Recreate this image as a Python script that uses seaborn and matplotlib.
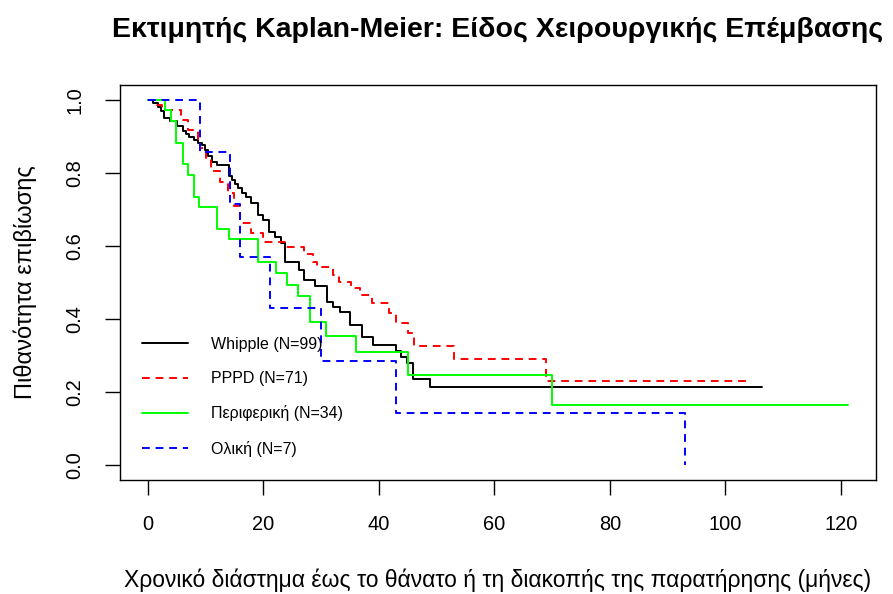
import numpy as np
import pandas as pd
import matplotlib
matplotlib.use("Agg")
import matplotlib.pyplot as plt
import seaborn as sns

# ---- data ----
groups = ["Whipple (N=99)", "PPPD (N=71)", "Περιφερική (N=34)", "Ολική (N=7)"]

whipple_t = [0, 0.9, 1.8, 2.3, 2.8, 3.8, 5.0, 6.0, 6.6, 7.1, 7.9, 8.7, 9.3, 9.8, 10.4,
             11.0, 11.9, 14.1, 14.6, 15.1, 15.6, 16.2, 17.0, 17.9, 19.0, 20.0, 21.0,
             22.0, 23.0, 23.8, 26.1, 27.0, 29.0, 31.0, 32.1, 33.2, 35.0, 37.0, 39.0,
             42.9, 43.9, 44.9, 45.9, 48.9, 106.3]
whipple_s = [1.0, 0.990, 0.980, 0.970, 0.949, 0.941, 0.929, 0.913, 0.905, 0.897, 0.889,
             0.882, 0.875, 0.862, 0.845, 0.830, 0.820, 0.792, 0.780, 0.770, 0.758, 0.745,
             0.735, 0.717, 0.685, 0.671, 0.638, 0.625, 0.607, 0.557, 0.534, 0.507, 0.490,
             0.446, 0.434, 0.418, 0.384, 0.352, 0.330, 0.313, 0.297, 0.280, 0.236, 0.215,
             0.215]

pppd_t = [0, 1.5, 2.4, 5.8, 7.0, 8.7, 9.0, 10.1, 10.9, 12.5, 13.8, 14.9, 15.9, 17.9,
          20.0, 23.8, 27.0, 28.6, 29.2, 32.1, 33.1, 35.1, 36.8, 38.8, 41.7, 42.9, 45.0,
          46.1, 53.0, 68.9, 104.2]
pppd_s = [1.0, 0.986, 0.972, 0.944, 0.918, 0.890, 0.869, 0.836, 0.804, 0.775, 0.745,
          0.710, 0.662, 0.635, 0.612, 0.598, 0.577, 0.557, 0.543, 0.521, 0.502, 0.484,
          0.466, 0.443, 0.416, 0.388, 0.361, 0.326, 0.290, 0.231, 0.231]

peri_t = [0, 2.9, 3.9, 4.9, 6.0, 7.0, 7.9, 8.9, 12.0, 14.1, 19.1, 22.2, 24.0, 26.0,
          28.0, 30.9, 36.0, 45.1, 70.0, 121.3]
peri_s = [1.0, 0.971, 0.941, 0.882, 0.824, 0.794, 0.735, 0.706, 0.647, 0.618, 0.556,
          0.527, 0.493, 0.462, 0.392, 0.354, 0.309, 0.248, 0.166, 0.166]

total_t = [0, 9.0, 14.2, 15.9, 21.1, 29.9, 42.9, 93.1]
total_s = [1.0, 0.857, 0.714, 0.571, 0.429, 0.286, 0.143, 0.0]

xticks = [0, 20, 40, 60, 80, 100, 120]
yticks = [0.0, 0.2, 0.4, 0.6, 0.8, 1.0]
ytick_labels = ["0.0", "0.2", "0.4", "0.6", "0.8", "1.0"]

title = "Εκτιμητής Kaplan-Meier: Είδος Χειρουργικής Επέμβασης"
xlabel = "Χρονικό διάστημα έως το θάνατο ή τη διακοπής της παρατήρησης (μήνες)"
ylabel = "Πιθανότητα επιβίωσης"

# ---- build long table ----
frames = []
for g, t, s in zip(groups, [whipple_t, pppd_t, peri_t, total_t],
                   [whipple_s, pppd_s, peri_s, total_s]):
    frames.append(pd.DataFrame({"time": t, "surv": s, "group": g}))
df = pd.concat(frames, ignore_index=True)

sns.set_theme(style="ticks")
plt.rcParams["font.family"] = ["Liberation Sans", "DejaVu Sans"]
plt.rcParams["text.color"] = "black"
plt.rcParams["axes.labelcolor"] = "black"
plt.rcParams["xtick.color"] = "black"
plt.rcParams["ytick.color"] = "black"

palette = dict(zip(groups, ["#000000", "#FF0000", "#00FF00", "#0000FF"]))
dashes = dict(zip(groups, ["", (4, 3), "", (4, 3)]))

W, H = 893, 594
fig = plt.figure(figsize=(W / 100, H / 100), dpi=100)
ax = fig.add_axes([120 / W, 1 - 480 / H, 756 / W, 395 / H])

sns.lineplot(data=df, x="time", y="surv", hue="group", style="group",
             hue_order=groups, style_order=groups, palette=palette, dashes=dashes,
             estimator=None, sort=False, drawstyle="steps-post", linewidth=1.4,
             ax=ax)

ax.set_xlim(-4.85, 126.1)
ax.set_ylim(-0.04, 1.04)
ax.set_xticks(xticks)
ax.set_xticklabels([str(v) for v in xticks])
ax.set_yticks(yticks)
ax.set_yticklabels(ytick_labels)

for sp in ax.spines.values():
    sp.set_visible(True)
    sp.set_color("black")
    sp.set_linewidth(1.0)

ax.tick_params(axis="both", direction="out", length=10.5, width=1.0,
               color="black", labelsize=14.4, labelcolor="black")
ax.tick_params(axis="x", pad=15)
ax.tick_params(axis="y", pad=15, labelrotation=90)
for lab in ax.get_yticklabels():
    lab.set_va("center")

ax.set_title(title, fontsize=20.5, fontweight="bold", y=1.139, va="center",
             color="black", pad=0)
ax.set_xlabel(xlabel, fontsize=16.5, color="black")
ax.set_ylabel(ylabel, fontsize=17.0, color="black")
ax.xaxis.set_label_coords(0.5, -(580 - 480) / 395)
ax.xaxis.label.set_va("center")
ax.yaxis.set_label_coords(-(120 - 25) / 756, 0.5)
ax.yaxis.label.set_va("center")

leg = ax.get_legend()
handles = leg.legend_handles
labels = [t.get_text() for t in leg.get_texts()]
leg.remove()
lg = ax.legend(handles, labels, loc="upper left", bbox_to_anchor=(0.029, 0.362),
               frameon=False, fontsize=11.5, handlelength=2.9, handletextpad=1.4,
               labelspacing=1.2, borderpad=0, borderaxespad=0)
for t in lg.get_texts():
    t.set_color("black")

fig.savefig("out.png", dpi=100)
